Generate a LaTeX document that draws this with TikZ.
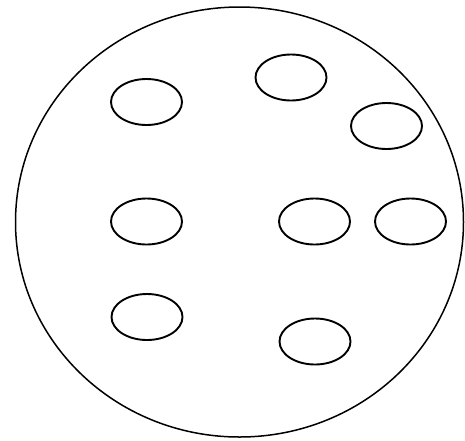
\documentclass[tikz,border=0pt]{standalone}
\usepackage{tikz}
\usetikzlibrary{shapes.geometric}
\tikzset{
  dish/.style={ellipse,draw,line width=1.5pt,inner sep=0pt,minimum width=448pt,minimum height=430pt},
  cell/.style={ellipse,draw,line width=1.9pt,inner sep=0pt,minimum width=71pt,minimum height=46pt}
}
\begin{document}
\begin{tikzpicture}[x=1pt,y=-1pt,line join=round]
  \useasboundingbox (0,0) rectangle (465,440);
  % outer ellipse
  \node[dish] (plate) at (239.5,222) {};
  % small ellipses inside
  \node[cell] (c1) at (146.5,102) {};
  \node[cell] (c2) at (291,77.5) {};
  \node[cell] (c3) at (386.5,126) {};
  \node[cell] (c4) at (146.5,221.5) {};
  \node[cell] (c5) at (314.5,221.5) {};
  \node[cell] (c6) at (410.5,221.5) {};
  \node[cell] (c7) at (147,317) {};
  \node[cell] (c8) at (315,341.5) {};
\end{tikzpicture}
\end{document}
